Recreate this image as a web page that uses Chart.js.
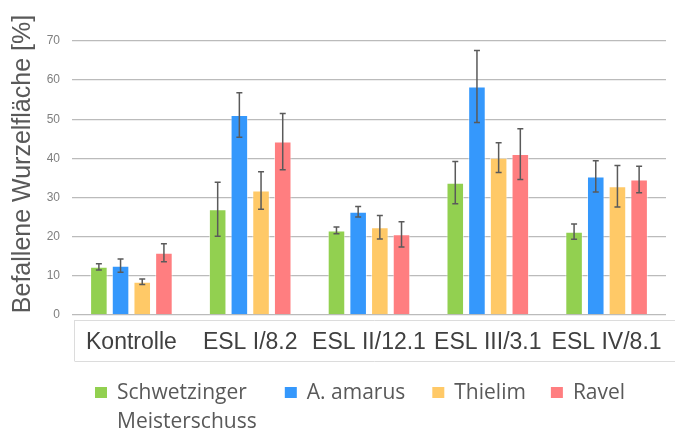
<!DOCTYPE html>
<html>
<head>
<meta charset="utf-8">
<script src="https://cdn.jsdelivr.net/npm/chart.js@4.4.1/dist/chart.umd.min.js"></script>
<style>
  html, body { margin: 0; padding: 0; background: #ffffff; }
  #wrap { position: relative; width: 675px; height: 433px; }
</style>
</head>
<body>
<div id="wrap"><canvas id="c" width="675" height="433"></canvas></div>
<script>
// ---- data ----
const categories = ['Kontrolle', 'ESL I/8.2', 'ESL II/12.1', 'ESL III/3.1', 'ESL IV/8.1'];
const seriesNames = [['Schwetzinger', 'Meisterschuss'], ['A. amarus'], ['Thielim'], ['Ravel']];
const schwetzinger = [12.3, 27.0, 21.6, 33.8, 21.3];
const schwetzingerErr = [0.8, 6.9, 0.85, 5.4, 1.95];
const amarus = [12.6, 51.1, 26.4, 58.4, 35.4];
const amarusErr = [1.7, 5.7, 1.35, 9.2, 4.0];
const thielim = [8.5, 31.8, 22.4, 40.2, 32.9];
const thielimErr = [0.7, 4.8, 3.0, 3.8, 5.3];
const ravel = [15.9, 44.3, 20.6, 41.1, 34.6];
const ravelErr = [2.3, 7.2, 3.25, 6.5, 3.4];
const yTicks = [0, 10, 20, 30, 40, 50, 60, 70];
const yTitle = 'Befallene Wurzelfläche [%]';

const colors = ['#92d050', '#3598fc', '#ffc967', '#ff7e80'];
const seriesValues = [schwetzinger, amarus, thielim, ravel];
const seriesErrors = [schwetzingerErr, amarusErr, thielimErr, ravelErr];

// error bars
const errorBarPlugin = {
  id: 'errorBars',
  afterDatasetsDraw(chart) {
    const ctx = chart.ctx;
    const y = chart.scales.y;
    ctx.save();
    ctx.strokeStyle = '#5a5a5a';
    ctx.lineWidth = 1.5;
    chart.data.datasets.forEach((ds, di) => {
      const meta = chart.getDatasetMeta(di);
      meta.data.forEach((bar, i) => {
        const v = ds.data[i], e = ds.errors[i];
        const yt = y.getPixelForValue(v + e);
        const yb = y.getPixelForValue(v - e);
        const x = bar.x;
        ctx.beginPath();
        ctx.moveTo(x, yt); ctx.lineTo(x, yb);
        ctx.moveTo(x - 3, yt); ctx.lineTo(x + 3, yt);
        ctx.moveTo(x - 3, yb); ctx.lineTo(x + 3, yb);
        ctx.stroke();
      });
    });
    ctx.restore();
  }
};

// y title, category box, legend
const decorPlugin = {
  id: 'decor',
  afterDraw(chart) {
    const ctx = chart.ctx;
    const area = chart.chartArea;
    ctx.save();
    // y-axis title
    ctx.translate(23, 164);
    ctx.rotate(-Math.PI / 2);
    ctx.font = '25px "Liberation Sans", Arial, sans-serif';
    ctx.fillStyle = '#595959';
    ctx.textAlign = 'center';
    ctx.textBaseline = 'middle';
    ctx.fillText(yTitle, 0, 0);
    ctx.restore();

    // faint table box under category labels
    ctx.save();
    ctx.strokeStyle = '#dcdcdc';
    ctx.lineWidth = 1;
    ctx.beginPath();
    ctx.moveTo(74.5, area.bottom + 5); ctx.lineTo(74.5, area.bottom + 46);
    ctx.moveTo(74.5, area.bottom + 5.5); ctx.lineTo(chart.width, area.bottom + 5.5);
    ctx.moveTo(74.5, area.bottom + 46.5); ctx.lineTo(chart.width, area.bottom + 46.5);
    ctx.stroke();
    ctx.restore();

    // legend
    ctx.save();
    ctx.font = '21px "Open Sans", sans-serif';
    ctx.textBaseline = 'alphabetic';
    ctx.textAlign = 'left';
    let x = 95;
    const baseY = 399;
    const lineH = 29;
    const gaps = [38, 27, 25, 0];
    seriesNames.forEach((lines, i) => {
      ctx.fillStyle = colors[i];
      ctx.fillRect(x, baseY - 12, 12, 11);
      ctx.fillStyle = '#595959';
      let w = 0;
      lines.forEach((t, li) => {
        ctx.fillText(t, x + 22, baseY + li * lineH);
        w = Math.max(w, ctx.measureText(lines[0]).width);
      });
      x = x + 22 + w + gaps[i];
    });
    ctx.restore();
  }
};

const datasets = seriesValues.map((vals, i) => ({
  label: seriesNames[i].join(' '),
  data: vals,
  errors: seriesErrors[i],
  backgroundColor: colors[i],
  borderColor: 'rgba(255,255,255,0.55)',
  borderWidth: 1,
  categoryPercentage: 0.73,
  barPercentage: 0.81
}));

new Chart(document.getElementById('c'), {
  type: 'bar',
  data: { labels: categories, datasets },
  options: {
    responsive: false,
    animation: false,
    devicePixelRatio: 1,
    layout: { padding: { top: 41, right: 9, bottom: 66, left: 0 } },
    plugins: { legend: { display: false }, tooltip: { enabled: false } },
    scales: {
      x: {
        grid: { display: false },
        border: { display: false },
        ticks: {
          color: '#404040',
          font: { family: '"Liberation Sans", Arial, sans-serif', size: 23 },
          padding: 6,
          maxRotation: 0,
          autoSkip: false
        },
        afterFit(scale) { scale.height = 52; }
      },
      y: {
        min: 0,
        max: 70,
        afterBuildTicks(scale) { scale.ticks = yTicks.map(v => ({ value: v })); },
        grid: { color: '#bbbbbb', lineWidth: 1.3, drawTicks: false },
        border: { display: false },
        ticks: {
          color: '#7f7f7f',
          font: { family: '"Liberation Sans", Arial, sans-serif', size: 12 },
          padding: 12
        },
        afterFit(scale) { scale.width = 72; }
      }
    }
  },
  plugins: [errorBarPlugin, decorPlugin]
});
</script>
</body>
</html>
